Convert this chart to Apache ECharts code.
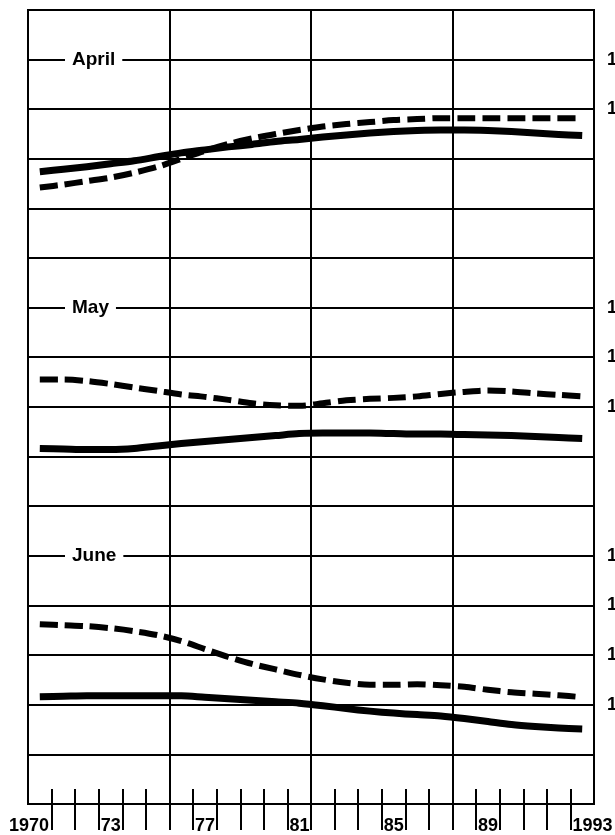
<!DOCTYPE html>
<html>
<head>
<meta charset="utf-8">
<script src="https://cdn.jsdelivr.net/npm/echarts@6/dist/echarts.min.js"></script>
<style>
  html, body { margin: 0; padding: 0; background: #fff; }
  #chart { width: 615px; height: 835px; }
</style>
</head>
<body>
<div id="chart"></div>
<script>
// Years 1970–1993; each value is plotted at mid-year (ticks mark the start of a year).
const years = [1970, 1971, 1972, 1973, 1974, 1975, 1976, 1977, 1978, 1979, 1980, 1981,
               1982, 1983, 1984, 1985, 1986, 1987, 1988, 1989, 1990, 1991, 1992, 1993];

// Panel names and their value ranges
const months = ['April', 'May', 'June'];
const monthMin = [10, 14, 14];
const monthMax = [15, 19, 20];
const monthLabelAt = [14, 18, 19];          // gridline carrying the month name
const rightLabels = [[14, 13], [18, 17, 16], [19, 18, 17, 16]];

// April
const aprilSolid = [11.74, 11.79, 11.84, 11.90, 11.96, 12.04, 12.12, 12.18, 12.24, 12.29, 12.35, 12.39,
                    12.44, 12.48, 12.52, 12.55, 12.57, 12.58, 12.58, 12.57, 12.55, 12.52, 12.49, 12.47];
const aprilDashed = [11.42, 11.48, 11.55, 11.62, 11.72, 11.84, 12.00, 12.16, 12.30, 12.41, 12.50, 12.58,
                     12.65, 12.70, 12.74, 12.78, 12.80, 12.82, 12.82, 12.82, 12.82, 12.82, 12.82, 12.82];
// May
const maySolid = [15.16, 15.15, 15.14, 15.14, 15.16, 15.21, 15.26, 15.30, 15.34, 15.38, 15.42, 15.46,
                  15.47, 15.47, 15.47, 15.46, 15.45, 15.45, 15.44, 15.43, 15.42, 15.40, 15.38, 15.36];
const mayDashed = [16.55, 16.55, 16.52, 16.46, 16.39, 16.32, 16.25, 16.20, 16.14, 16.07, 16.03, 16.02,
                   16.07, 16.13, 16.16, 16.18, 16.21, 16.26, 16.30, 16.33, 16.31, 16.27, 16.24, 16.21];
// June
const juneSolid = [16.16, 16.17, 16.18, 16.18, 16.18, 16.18, 16.18, 16.15, 16.12, 16.09, 16.06, 16.03,
                   15.98, 15.92, 15.87, 15.83, 15.80, 15.77, 15.72, 15.66, 15.60, 15.56, 15.53, 15.51];
const juneDashed = [17.62, 17.60, 17.58, 17.54, 17.48, 17.40, 17.28, 17.12, 16.96, 16.82, 16.71, 16.60,
                    16.51, 16.44, 16.40, 16.40, 16.41, 16.39, 16.36, 16.30, 16.25, 16.22, 16.19, 16.15];

// Bottom axis: ticks and labelled years
const tickYears = [1971, 1972, 1973, 1974, 1975, 1976, 1977, 1978, 1979, 1980, 1981, 1982,
                   1983, 1984, 1985, 1986, 1987, 1988, 1989, 1990, 1991, 1992, 1993];
const labelYears = [1970, 1973, 1977, 1981, 1985, 1989, 1993];

const solidSets = [aprilSolid, maySolid, juneSolid];
const dashedSets = [aprilDashed, mayDashed, juneDashed];

const FONT = "'Liberation Sans', Arial, Helvetica, sans-serif";

const chart = echarts.init(document.getElementById('chart'), null, { renderer: 'canvas' });

const gridTops = [10, 258, 506];
const gridHeights = [248, 248, 298];

const grids = gridTops.map((t, i) => ({
  left: 28, width: 566, top: t, height: gridHeights[i],
  outerBoundsMode: 'none', containLabel: false,
  show: true, borderColor: '#000', borderWidth: 2, backgroundColor: 'transparent'
}));

// One line every six years (1970, 1976, 1982, 1988, 1994)
const sixYearColors = ['#000', 'rgba(0,0,0,0)', 'rgba(0,0,0,0)', 'rgba(0,0,0,0)', 'rgba(0,0,0,0)', 'rgba(0,0,0,0)'];

const xAxes = gridTops.map((t, i) => ({
  gridIndex: i, type: 'value', min: 1970, max: 1994, interval: 1,
  axisLine: { show: false }, axisTick: { show: false }, axisLabel: { show: false },
  splitLine: { show: true, showMinLine: true, showMaxLine: true,
               lineStyle: { color: sixYearColors, width: 2 } }
}));

// Year ticks crossing the bottom frame, with the year labels
xAxes.push({
  gridIndex: 2, type: 'value', position: 'bottom', offset: -15,
  min: 1970, max: 1994, interval: 1,
  axisLine: { show: false },
  splitLine: { show: false },
  axisTick: { show: true, length: 41, customValues: tickYears,
              lineStyle: { color: '#000', width: 2 } },
  axisLabel: {
    show: true, margin: 28, align: 'left', alignMinLabel: 'center',
    color: '#000', fontFamily: FONT, fontWeight: 'bold', fontSize: 18,
    padding: [0, 0, 0, 2],
    formatter: v => {
      if (labelYears.indexOf(v) < 0) return '';
      return (v === 1970 || v === 1993) ? String(v) : String(v).slice(2);
    }
  }
});

const yAxes = gridTops.map((t, i) => ({
  gridIndex: i, type: 'value', position: 'right',
  min: monthMin[i], max: monthMax[i], interval: 1,
  axisLine: { show: false }, axisTick: { show: false },
  splitLine: { show: true, lineStyle: { color: '#000', width: 2 } },
  axisLabel: {
    show: true, margin: 13, color: '#000',
    fontFamily: FONT, fontWeight: 'bold', fontSize: 18,
    formatter: v => (rightLabels[i].indexOf(v) >= 0 ? String(v) : '')
  }
}));

const toPoints = vals => years.map((y, k) => [y + 0.5, vals[k]]);

const series = [];
months.forEach((m, i) => {
  series.push({
    name: m + ' solid', type: 'line', xAxisIndex: i, yAxisIndex: i,
    data: toPoints(solidSets[i]), showSymbol: false, symbol: 'none', smooth: 0.3,
    lineStyle: { color: '#000', width: 7, cap: 'butt', join: 'round' },
    z: 5, silent: true, animation: false
  });
  series.push({
    name: m + ' dashed', type: 'line', xAxisIndex: i, yAxisIndex: i,
    data: toPoints(dashedSets[i]), showSymbol: false, symbol: 'none', smooth: 0.3,
    lineStyle: { color: '#000', width: 6, type: [18, 7], cap: 'butt', join: 'round' },
    z: 5, silent: true, animation: false
  });
});

chart.setOption({
  animation: false,
  backgroundColor: '#fff',
  grid: grids,
  xAxis: xAxes,
  yAxis: yAxes,
  series: series
});

// Month names sit on their gridline, interrupting it
const titles = months.map((m, i) => {
  const p = chart.convertToPixel({ gridIndex: i }, [1970, monthLabelAt[i]]);
  return {
    type: 'text', x: p[0] + 37, y: p[1], z: 20,
    style: {
      text: m, fill: '#000', font: 'bold 19px ' + FONT,
      backgroundColor: '#fff', padding: [2, 7, 2, 7], verticalAlign: 'middle', align: 'left'
    }
  };
});
chart.setOption({ graphic: titles });
</script>
</body>
</html>
